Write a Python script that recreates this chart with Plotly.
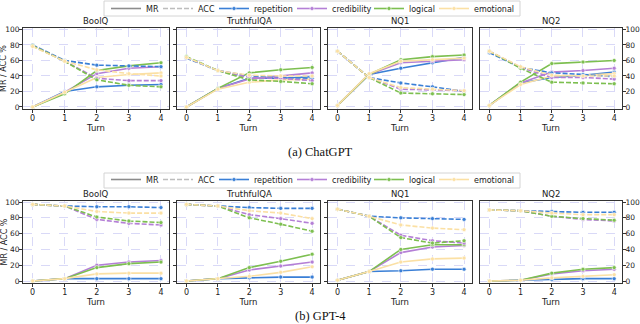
import plotly.graph_objects as go

turns = [0, 1, 2, 3, 4]
datasets = ["BoolQ", "TruthfulQA", "NQ1", "NQ2"]
strategies = ["repetition", "credibility", "logical", "emotional"]
models = ["(a) ChatGPT", "(b) GPT-4"]

# ---- ChatGPT ----
chatgpt_boolq_mr = dict(repetition=[0, 20, 26, 28, 29], credibility=[0, 19, 43, 50, 52],
                        logical=[0, 17, 47, 53, 57], emotional=[0, 19, 38, 42, 44])
chatgpt_boolq_acc = dict(repetition=[80, 60, 54, 53, 52], credibility=[79, 59, 37, 34, 34],
                         logical=[79, 59, 35, 28, 26], emotional=[78, 59, 48, 43, 40])
chatgpt_tqa_mr = dict(repetition=[0, 24, 37, 37, 39], credibility=[0, 24, 36, 40, 44],
                      logical=[0, 24, 44, 48, 51], emotional=[0, 23, 32, 35, 36])
chatgpt_tqa_acc = dict(repetition=[63, 47, 40, 38, 37], credibility=[64, 47, 38, 37, 34],
                       logical=[65, 47, 35, 33, 30], emotional=[64, 47, 41, 40, 40])
chatgpt_nq1_mr = dict(repetition=[2, 42, 50, 57, 64], credibility=[2, 42, 57, 59, 61],
                      logical=[2, 42, 61, 65, 67], emotional=[2, 43, 59, 61, 63])
chatgpt_nq1_acc = dict(repetition=[72, 38, 31, 26, 20], credibility=[72, 38, 23, 22, 21],
                       logical=[72, 38, 18, 17, 16], emotional=[72, 38, 25, 23, 21])
chatgpt_nq2_mr = dict(repetition=[2, 31, 38, 41, 45], credibility=[2, 31, 45, 47, 50],
                      logical=[2, 32, 56, 58, 60], emotional=[2, 29, 40, 41, 43])
chatgpt_nq2_acc = dict(repetition=[70, 51, 44, 42, 39], credibility=[72, 51, 38, 38, 36],
                       logical=[72, 50, 32, 31, 30], emotional=[72, 52, 41, 40, 40])

# ---- GPT-4 ----
gpt4_boolq_mr = dict(repetition=[0, 3, 3, 3, 3], credibility=[0, 3, 20, 24, 26],
                     logical=[0, 3, 17, 22, 24], emotional=[0, 3, 9, 10, 10])
gpt4_boolq_acc = dict(repetition=[97, 95, 94, 94, 93], credibility=[97, 95, 78, 73, 71],
                      logical=[97, 95, 81, 76, 74], emotional=[97, 95, 88, 86, 86])
gpt4_tqa_mr = dict(repetition=[0, 3, 4, 5, 5], credibility=[0, 3, 14, 19, 24],
                   logical=[0, 3, 17, 25, 34], emotional=[0, 3, 6, 11, 18])
gpt4_tqa_acc = dict(repetition=[97, 95, 93, 92, 92], credibility=[97, 95, 84, 79, 73],
                    logical=[97, 95, 80, 72, 63], emotional=[97, 95, 89, 86, 79])
gpt4_nq1_mr = dict(repetition=[1, 12, 13, 15, 15], credibility=[1, 12, 36, 43, 45],
                   logical=[1, 12, 40, 46, 46], emotional=[1, 12, 24, 28, 29])
gpt4_nq1_acc = dict(repetition=[91, 82, 80, 79, 78], credibility=[91, 82, 58, 51, 48],
                    logical=[91, 82, 55, 48, 51], emotional=[91, 82, 71, 67, 65])
gpt4_nq2_mr = dict(repetition=[0, 1, 2, 3, 3], credibility=[0, 1, 9, 13, 15],
                   logical=[0, 1, 10, 15, 17], emotional=[0, 1, 4, 6, 8])
gpt4_nq2_acc = dict(repetition=[90, 89, 88, 87, 87], credibility=[90, 89, 82, 78, 76],
                    logical=[90, 89, 82, 79, 77], emotional=[90, 89, 86, 84, 84])

y_ticks = [0, 20, 40, 60, 80, 100]

panels = [
    (chatgpt_boolq_mr, chatgpt_boolq_acc), (chatgpt_tqa_mr, chatgpt_tqa_acc),
    (chatgpt_nq1_mr, chatgpt_nq1_acc), (chatgpt_nq2_mr, chatgpt_nq2_acc),
    (gpt4_boolq_mr, gpt4_boolq_acc), (gpt4_tqa_mr, gpt4_tqa_acc),
    (gpt4_nq1_mr, gpt4_nq1_acc), (gpt4_nq2_mr, gpt4_nq2_acc),
]

# ---- styling ----
W, H = 640, 324
colors = dict(repetition="#3a7fd6", credibility="#b47fd6", logical="#7dbf50", emotional="#fbe0a4")
x_px = [(23, 169), (177, 320), (328, 472), (480, 622)]
y_px = [(28, 109), (201, 283)]
legend_item_top = [-6, 165]          # plotly legend anchor (px from top)
legend_box = [(1, 16), (173, 188)]   # drawn frame (px from top)
caption_px = [152, 316]
grid_color = "#d9d9f7"
font = "DejaVu Sans, sans-serif"


def px_x(p):
    return p / W


def px_y(p):
    return 1 - p / H


fig = go.Figure()

for i, (mr, acc) in enumerate(panels):
    xa = "x" if i == 0 else f"x{i + 1}"
    ya = "y" if i == 0 else f"y{i + 1}"
    for metric, dash in ((mr, "solid"), (acc, "5px,2px")):
        for s in strategies:
            fig.add_trace(go.Scatter(
                x=turns, y=metric[s], xaxis=xa, yaxis=ya, mode="lines+markers",
                line=dict(color=colors[s], width=1.6, dash=dash),
                marker=dict(size=4, color=colors[s], line=dict(color="white", width=0.6)),
                showlegend=False, hoverinfo="skip"))

# legend entries (two legends: one per model block)
legend_widths = [7, 11, 33, 32, 20, 40]
for li, lg in enumerate(["legend", "legend2"]):
    entries = [("MR", "#8c8c8c", "solid", None), ("ACC", "#bdbdbd", "5px,2px", None)] + \
              [(s, colors[s], "solid", s) for s in strategies]
    for k, (name, col, dash, s) in enumerate(entries):
        fig.add_trace(go.Scatter(
            x=[None], y=[None], name=name, legend=lg,
            mode="lines+markers" if s else "lines",
            line=dict(color=col, width=1.6, dash=dash),
            marker=dict(size=4, color=col, line=dict(color="white", width=0.6)),
            legendwidth=legend_widths[k], showlegend=True))

layout = dict(
    width=W, height=H, margin=dict(l=0, r=0, t=0, b=0, autoexpand=False),
    paper_bgcolor="white", plot_bgcolor="white",
    font=dict(family=font, size=8, color="#222"),
    annotations=[], shapes=[], showlegend=True,
)

for li, lg in enumerate(["legend", "legend2"]):
    layout[lg] = dict(orientation="h", x=px_x(106), xanchor="left", y=px_y(legend_item_top[li]),
                      yanchor="top", bgcolor="rgba(0,0,0,0)", borderwidth=0,
                      font=dict(size=8, family=font), itemwidth=30, tracegroupgap=0)
    b0, b1 = legend_box[li]
    layout["shapes"].append(dict(type="rect", xref="paper", yref="paper",
                                 x0=px_x(104), x1=px_x(520), y0=px_y(b1), y1=px_y(b0),
                                 line=dict(color="#d4d4d4", width=1), fillcolor="rgba(0,0,0,0)"))

for i in range(8):
    row, col = divmod(i, 4)
    xk = "xaxis" if i == 0 else f"xaxis{i + 1}"
    yk = "yaxis" if i == 0 else f"yaxis{i + 1}"
    xa = "x" if i == 0 else f"x{i + 1}"
    ya = "y" if i == 0 else f"y{i + 1}"
    x0, x1 = x_px[col]
    y0, y1 = y_px[row]
    layout[xk] = dict(
        domain=[px_x(x0), px_x(x1)], anchor=ya, range=[-0.3, 4.25],
        tickvals=turns, ticks="outside", ticklen=3, tickcolor="#333",
        showline=True, mirror=True, linecolor="#333", linewidth=1,
        showgrid=True, gridcolor=grid_color, griddash="dash", gridwidth=0.8,
        zeroline=False, tickfont=dict(size=8), ticklabelstandoff=-2,
        title=dict(text="Turn", font=dict(size=8.5), standoff=0),
    )
    ydict = dict(
        domain=[px_y(y1), px_y(y0)], anchor=xa, range=[-2.6, 101.9] if row == 0 else [-2.5, 101.3],
        tickvals=y_ticks, ticks="outside", ticklen=3, tickcolor="#333",
        showline=True, mirror=True, linecolor="#333", linewidth=1,
        showgrid=True, gridcolor=grid_color, griddash="dash", gridwidth=0.8,
        zeroline=False, tickfont=dict(size=7.5), showticklabels=(col in (0, 3)),
        ticklabelstandoff=-2,
    )
    if col == 3:
        ydict["side"] = "right"
    layout[yk] = ydict
    layout["annotations"].append(dict(
        text=datasets[col], x=px_x((x0 + x1) / 2), y=px_y(y0), xref="paper", yref="paper",
        xanchor="center", yanchor="bottom", showarrow=False, yshift=0,
        font=dict(size=8.5, family=font)))
    if col == 0:
        layout["annotations"].append(dict(
            text="MR / ACC %", textangle=-90, x=px_x(3.5), y=px_y((y0 + y1) / 2),
            xref="paper", yref="paper", xanchor="center", yanchor="middle",
            showarrow=False, font=dict(size=8, family=font)))

for r, cap_y in enumerate(caption_px):
    layout["annotations"].append(dict(
        text=models[r], x=0.5, y=px_y(cap_y), xref="paper", yref="paper",
        xanchor="center", yanchor="middle", showarrow=False,
        font=dict(size=12.5, family="Liberation Serif, Times New Roman, serif", color="#111")))

fig.update_layout(**layout)
fig.write_html("out.html", config={"displayModeBar": False},
               post_script="document.body.style.margin='0';document.body.style.overflow='hidden';")
